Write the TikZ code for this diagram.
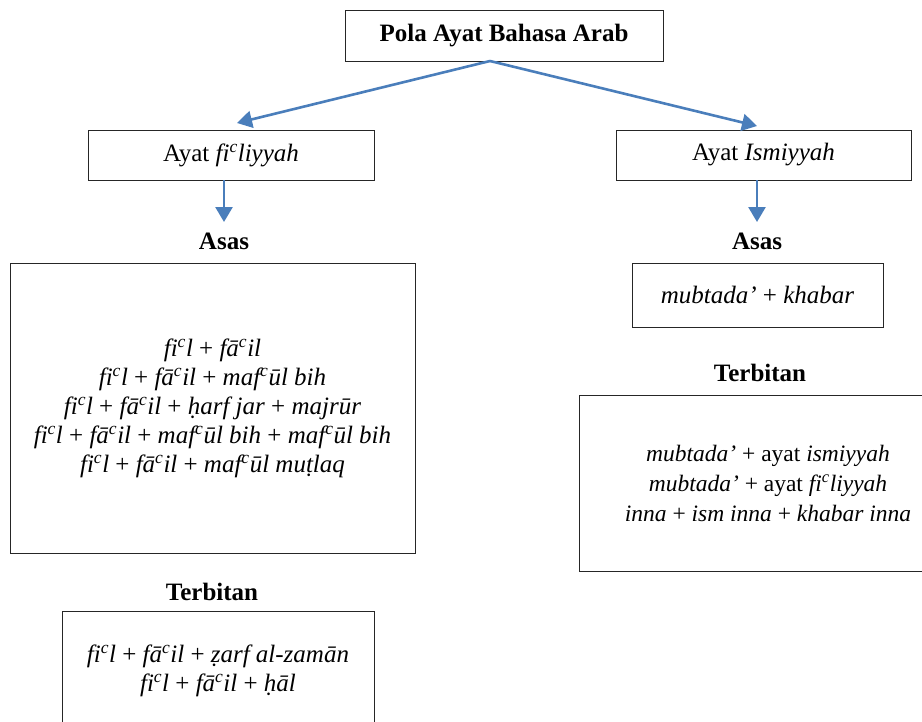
\documentclass[tikz,border=0pt]{standalone}
\usepackage{fontspec}
\setmainfont[Ligatures=Common]{Liberation Serif}
\usetikzlibrary{arrows.meta}
\definecolor{arrowblue}{RGB}{74,126,187}
\newcommand{\Fic}{\textit{fi\textsuperscript{c}}}
\newcommand{\Fac}{\textit{fā\textsuperscript{c}}}
\tikzset{
  box/.style={draw=black!85, line width=0.9pt, inner sep=0pt, align=center,
    font=\fontsize{25}{29}\selectfont},
  heading/.style={font=\fontsize{25}{29}\selectfont\bfseries, inner sep=0pt},
  flow/.style={draw=arrowblue, line width=2.6pt,
    -{Triangle[length=15pt, width=17pt]}},
}
\begin{document}
\begin{tikzpicture}[x=1pt,y=-1pt]
\useasboundingbox (0,0) rectangle (922,721);
\clip (0,0) rectangle (922,721);
% top
\node[box, minimum width=318pt, minimum height=51pt] (top) at (504,35.5)
  {\textbf{Pola Ayat Bahasa Arab}};
\coordinate (topfoot) at (490,61);
% second level
\node[box, minimum width=286pt, minimum height=50pt] (fil) at (231,155)
  {Ayat \textit{fi\textsuperscript{c}liyyah}};
\node[box, minimum width=295pt, minimum height=50pt] (ism) at (763.5,155)
  {Ayat \textit{Ismiyyah}};
\coordinate (filtip) at (237,123);
\coordinate (ismtip) at (757,126);
\draw[flow] (topfoot) -- (filtip);
\draw[flow] (topfoot) -- (ismtip);
% headings
\node[heading] (asasL) at (224,241) {Asas};
\node[heading] (asasR) at (757,241) {Asas};
\node[heading] (terbL) at (212,592) {Terbitan};
\node[heading] (terbR) at (760,373) {Terbitan};
\coordinate (filfoot) at (224,180);
\coordinate (ismfoot) at (757,180);
\coordinate (asasLtop) at (224,222);
\coordinate (asasRtop) at (757,222);
\draw[flow] (filfoot) -- (asasLtop);
\draw[flow] (ismfoot) -- (asasRtop);
% left asas box
\node[box, minimum width=405pt, minimum height=290pt] (asasLbox) at (212.5,408)
  {\Fic\textit{l} + \Fac\textit{il}\\
   \Fic\textit{l} + \Fac\textit{il} + \textit{maf\textsuperscript{c}ūl bih}\\
   \Fic\textit{l} + \Fac\textit{il} + \textit{ḥarf jar} + \textit{majrūr}\\
   \Fic\textit{l} + \Fac\textit{il} + \textit{maf\textsuperscript{c}ūl bih} + \textit{maf\textsuperscript{c}ūl bih}\\
   \Fic\textit{l} + \Fac\textit{il} + \textit{maf\textsuperscript{c}ūl muṭlaq}};
% left terbitan box (bottom cut by the page)
\node[box, minimum width=312pt, minimum height=120pt] (terbLbox) at (218,671)
  {\Fic\textit{l} + \Fac\textit{il} + \textit{ẓarf al-zamān}\\
   \Fic\textit{l} + \Fac\textit{il} + \textit{ḥāl}};
% right asas box
\node[box, minimum width=251pt, minimum height=64pt] (asasRbox) at (757.5,295)
  {\textit{mubtada’} + \textit{khabar}};
% right terbitan box (right side cut by the page)
\node[box, minimum width=378pt, minimum height=176pt, font=\fontsize{23.5}{30}\selectfont] (terbRbox) at (768,483)
  {\textit{mubtada’} + ayat \textit{ismiyyah}\\
   \textit{mubtada’} + ayat \textit{fi\textsuperscript{c}liyyah}\\
   \textit{inna} + \textit{ism inna} + \textit{khabar inna}};
\end{tikzpicture}
\end{document}
